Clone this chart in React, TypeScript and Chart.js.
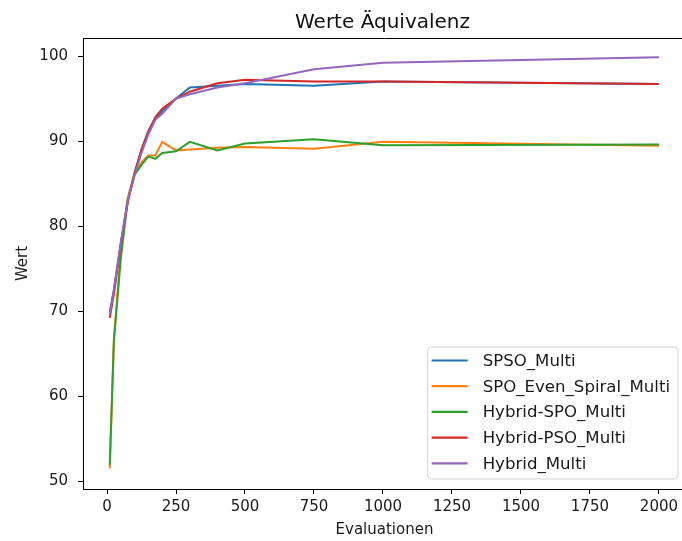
import React, { useEffect, useRef } from "react";
import { Chart, registerables } from "chart.js";

Chart.register(...registerables);

const evaluations = [10, 25, 50, 75, 100, 125, 150, 175, 200, 250, 300, 400, 500, 750, 1000, 2000];

const spsoMulti = [69.9, 72.5, 78.0, 83.0, 86.3, 89.0, 91.2, 92.7, 93.5, 95.0, 96.3, 96.5, 96.7, 96.5, 97.0, 96.7];
const spoEvenSpiralMulti = [51.5, 66.8, 77.0, 83.3, 86.2, 87.5, 88.3, 88.3, 89.9, 88.9, 89.0, 89.2, 89.3, 89.1, 89.9, 89.45];
const hybridSpoMulti = [51.9, 66.5, 76.2, 83.0, 86.0, 87.2, 88.2, 87.9, 88.6, 88.8, 89.9, 88.9, 89.7, 90.2, 89.5, 89.6];
const hybridPsoMulti = [69.2, 72.0, 77.8, 82.8, 86.2, 89.0, 91.1, 92.8, 93.8, 95.0, 95.8, 96.8, 97.2, 97.0, 97.0, 96.7];
const hybridMulti = [69.6, 72.5, 78.0, 83.0, 86.0, 88.6, 90.8, 92.5, 93.2, 95.0, 95.5, 96.3, 96.8, 98.45, 99.2, 99.85];

const seriesLabels = ["SPSO_Multi", "SPO_Even_Spiral_Multi", "Hybrid-SPO_Multi", "Hybrid-PSO_Multi", "Hybrid_Multi"];
const seriesValues = [spsoMulti, spoEvenSpiralMulti, hybridSpoMulti, hybridPsoMulti, hybridMulti];
const seriesColors = ["#1f77b4", "#ff7f0e", "#2ca02c", "#d62728", "#9467bd"];

const xTicks = [0, 250, 500, 750, 1000, 1250, 1500, 1750, 2000];
const yTicks = [50, 60, 70, 80, 90, 100];

const titleText = "Werte Äquivalenz";
const xTitle = "Evaluationen";
const yTitle = "Wert";

const FONT = "'DejaVu Sans', sans-serif";

const framePlugin = {
  id: "frameAndLegend",
  afterDraw(chart: any) {
    const { ctx, chartArea } = chart;
    const { left, right, top, bottom } = chartArea;
    ctx.save();
    // top spine
    ctx.strokeStyle = "#000";
    ctx.lineWidth = 1;
    ctx.beginPath();
    ctx.moveTo(left, top + 0.5);
    ctx.lineTo(right, top + 0.5);
    ctx.stroke();

    // title
    ctx.fillStyle = "#111";
    ctx.font = `20px ${FONT}`;
    ctx.textAlign = "center";
    ctx.textBaseline = "alphabetic";
    ctx.fillText(titleText, (left + right) / 2 - 2, top - 10);

    // legend
    const fontSize = 16.6;
    ctx.font = `${fontSize}px ${FONT}`;
    let maxW = 0;
    seriesLabels.forEach((l) => {
      maxW = Math.max(maxW, ctx.measureText(l).width);
    });
    const rowH = 25.7;
    const padL = 4;
    const handle = 36;
    const gap = 15;
    const padR = 8;
    const boxW = padL + handle + gap + maxW + padR;
    const boxH = 132;
    const boxR = right - 8;
    const boxB = bottom - 10;
    const boxL = boxR - boxW;
    const boxT = boxB - boxH;
    const r = 4;
    ctx.beginPath();
    ctx.moveTo(boxL + r, boxT);
    ctx.lineTo(boxR - r, boxT);
    ctx.quadraticCurveTo(boxR, boxT, boxR, boxT + r);
    ctx.lineTo(boxR, boxB - r);
    ctx.quadraticCurveTo(boxR, boxB, boxR - r, boxB);
    ctx.lineTo(boxL + r, boxB);
    ctx.quadraticCurveTo(boxL, boxB, boxL, boxB - r);
    ctx.lineTo(boxL, boxT + r);
    ctx.quadraticCurveTo(boxL, boxT, boxL + r, boxT);
    ctx.closePath();
    ctx.fillStyle = "rgba(255,255,255,0.8)";
    ctx.fill();
    ctx.strokeStyle = "#d4d4d4";
    ctx.lineWidth = 1;
    ctx.stroke();

    ctx.textAlign = "left";
    ctx.textBaseline = "middle";
    seriesLabels.forEach((l, i) => {
      const cy = boxT + 13.5 + i * rowH;
      ctx.strokeStyle = seriesColors[i];
      ctx.lineWidth = 2.2;
      ctx.beginPath();
      ctx.moveTo(boxL + padL, cy);
      ctx.lineTo(boxL + padL + handle, cy);
      ctx.stroke();
      ctx.fillStyle = "#1a1a1a";
      ctx.fillText(l, boxL + padL + handle + gap, cy + 1);
    });
    ctx.restore();
  },
};

export default function App() {
  const ref = useRef<HTMLCanvasElement | null>(null);

  useEffect(() => {
    if (!ref.current) return;
    const datasets = seriesLabels.map((label, i) => ({
      label,
      data: evaluations.map((x, j) => ({ x, y: seriesValues[i][j] })),
      borderColor: seriesColors[i],
      backgroundColor: seriesColors[i],
      borderWidth: 2,
      pointRadius: 0,
      tension: 0,
      fill: false,
      order: seriesLabels.length - i,
    }));

    const chart = new Chart(ref.current, {
      type: "line",
      data: { datasets },
      plugins: [framePlugin],
      options: {
        animation: false,
        responsive: false,
        maintainAspectRatio: false,
        devicePixelRatio: 1,
        layout: { padding: { top: 38, right: 14, left: 0, bottom: 0 } },
        plugins: {
          legend: { display: false },
          title: { display: false },
          tooltip: { enabled: false },
        },
        scales: {
          x: {
            type: "linear",
            min: -87,
            max: 2098,
            afterBuildTicks: (scale: any) => {
              scale.ticks = xTicks.map((v) => ({ value: v }));
            },
            afterFit: (scale: any) => {
              scale.height = 52;
            },
            grid: {
              display: true,
              drawOnChartArea: false,
              drawTicks: true,
              tickLength: 5,
              tickColor: "#000",
              tickWidth: 1,
            },
            border: { display: true, color: "#000", width: 1 },
            ticks: {
              color: "#1a1a1a",
              font: { family: FONT, size: 15 },
              padding: 4,
              maxRotation: 0,
              autoSkip: false,
              callback: (v: any) => String(v),
            },
            title: {
              display: true,
              text: xTitle,
              color: "#1a1a1a",
              font: { family: FONT, size: 15 },
              padding: { top: 0, bottom: 2 },
            },
          },
          y: {
            type: "linear",
            min: 49.06,
            max: 102.12,
            afterBuildTicks: (scale: any) => {
              scale.ticks = yTicks.map((v) => ({ value: v }));
            },
            afterFit: (scale: any) => {
              scale.width = 83;
            },
            grid: {
              display: true,
              drawOnChartArea: false,
              drawTicks: true,
              tickLength: 5,
              tickColor: "#000",
              tickWidth: 1,
            },
            border: { display: true, color: "#000", width: 1 },
            ticks: {
              color: "#1a1a1a",
              font: { family: FONT, size: 15 },
              padding: 10,
              autoSkip: false,
              callback: (v: any) => String(v),
            },
            title: {
              display: true,
              text: yTitle,
              color: "#1a1a1a",
              font: { family: FONT, size: 15 },
              padding: { top: 14, bottom: 0 },
            },
          },
        },
      },
    });
    return () => chart.destroy();
  }, []);

  return (
    <div style={{ position: "absolute", left: 0, top: 0, width: 682, height: 541, overflow: "hidden", background: "#fff" }}>
      <canvas ref={ref} width={700} height={541} style={{ width: 700, height: 541, display: "block" }} />
    </div>
  );
}
